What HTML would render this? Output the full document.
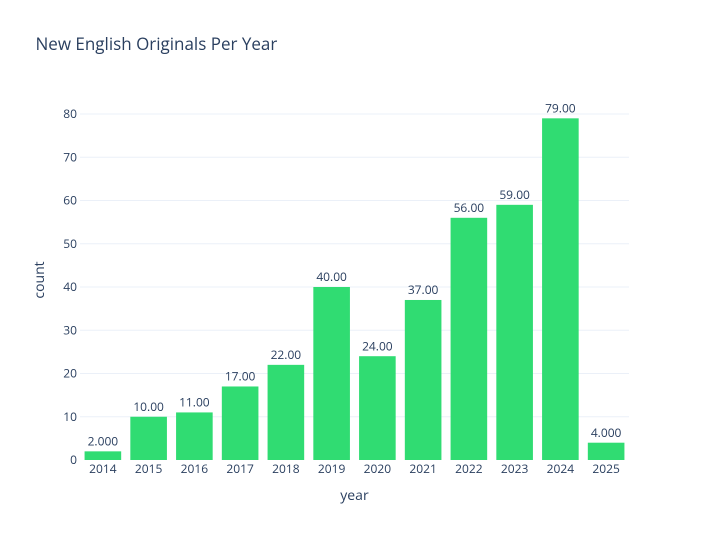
<!DOCTYPE html>
<html><head><meta charset="utf-8"><style>
html,body{margin:0;padding:0;background:#fff;}
svg{display:block;font-family:"Open Sans","Liberation Sans",Verdana,sans-serif;}
</style></head><body>
<svg width="709" height="540" viewBox="0 0 709 540" xmlns="http://www.w3.org/2000/svg">
<rect width="709" height="540" fill="#fff"/>
<g stroke="#ebf0f8" stroke-width="1">
<line x1="80" x2="629" y1="416.75" y2="416.75"/>
<line x1="80" x2="629" y1="373.5" y2="373.5"/>
<line x1="80" x2="629" y1="330.25" y2="330.25"/>
<line x1="80" x2="629" y1="287" y2="287"/>
<line x1="80" x2="629" y1="243.75" y2="243.75"/>
<line x1="80" x2="629" y1="200.5" y2="200.5"/>
<line x1="80" x2="629" y1="157.25" y2="157.25"/>
<line x1="80" x2="629" y1="114" y2="114"/>
</g>
<g fill="#30dc72">
<rect x="84.575" y="451.35" width="36.6" height="8.65"/>
<rect x="130.325" y="416.75" width="36.6" height="43.25"/>
<rect x="176.075" y="412.425" width="36.6" height="47.575"/>
<rect x="221.825" y="386.475" width="36.6" height="73.525"/>
<rect x="267.575" y="364.85" width="36.6" height="95.15"/>
<rect x="313.325" y="287" width="36.6" height="173"/>
<rect x="359.075" y="356.2" width="36.6" height="103.8"/>
<rect x="404.825" y="299.975" width="36.6" height="160.025"/>
<rect x="450.575" y="217.8" width="36.6" height="242.2"/>
<rect x="496.325" y="204.825" width="36.6" height="255.175"/>
<rect x="542.075" y="118.325" width="36.6" height="341.675"/>
<rect x="587.825" y="442.7" width="36.6" height="17.3"/>
</g>
<g fill="#2a3f5f" font-size="12" text-anchor="middle">
<text x="102.875" y="445.5">2.000</text>
<text x="148.625" y="411">10.00</text>
<text x="194.375" y="406.5">11.00</text>
<text x="240.125" y="380.5">17.00</text>
<text x="285.875" y="359">22.00</text>
<text x="331.625" y="281">40.00</text>
<text x="377.375" y="350.3">24.00</text>
<text x="423.125" y="294">37.00</text>
<text x="468.875" y="212">56.00</text>
<text x="514.625" y="199">59.00</text>
<text x="560.375" y="112.4">79.00</text>
<text x="606.125" y="436.8">4.000</text>
</g>
<g fill="#2a3f5f" font-size="12" text-anchor="middle">
<text x="102.875" y="473">2014</text>
<text x="148.625" y="473">2015</text>
<text x="194.375" y="473">2016</text>
<text x="240.125" y="473">2017</text>
<text x="285.875" y="473">2018</text>
<text x="331.625" y="473">2019</text>
<text x="377.375" y="473">2020</text>
<text x="423.125" y="473">2021</text>
<text x="468.875" y="473">2022</text>
<text x="514.625" y="473">2023</text>
<text x="560.375" y="473">2024</text>
<text x="606.125" y="473">2025</text>
</g>
<g fill="#2a3f5f" font-size="12" text-anchor="end">
<text x="77" y="464.2">0</text>
<text x="77" y="420.95">10</text>
<text x="77" y="377.7">20</text>
<text x="77" y="334.45">30</text>
<text x="77" y="291.2">40</text>
<text x="77" y="247.95">50</text>
<text x="77" y="204.7">60</text>
<text x="77" y="161.45">70</text>
<text x="77" y="118.2">80</text>
</g>
<text x="354.5" y="500" fill="#2a3f5f" font-size="14" text-anchor="middle">year</text>
<text transform="translate(44,280) rotate(-90)" fill="#2a3f5f" font-size="14" text-anchor="middle">count</text>
<text x="35.5" y="50" fill="#2a3f5f" font-size="17">New English Originals Per Year</text>
</svg>
</body></html>
